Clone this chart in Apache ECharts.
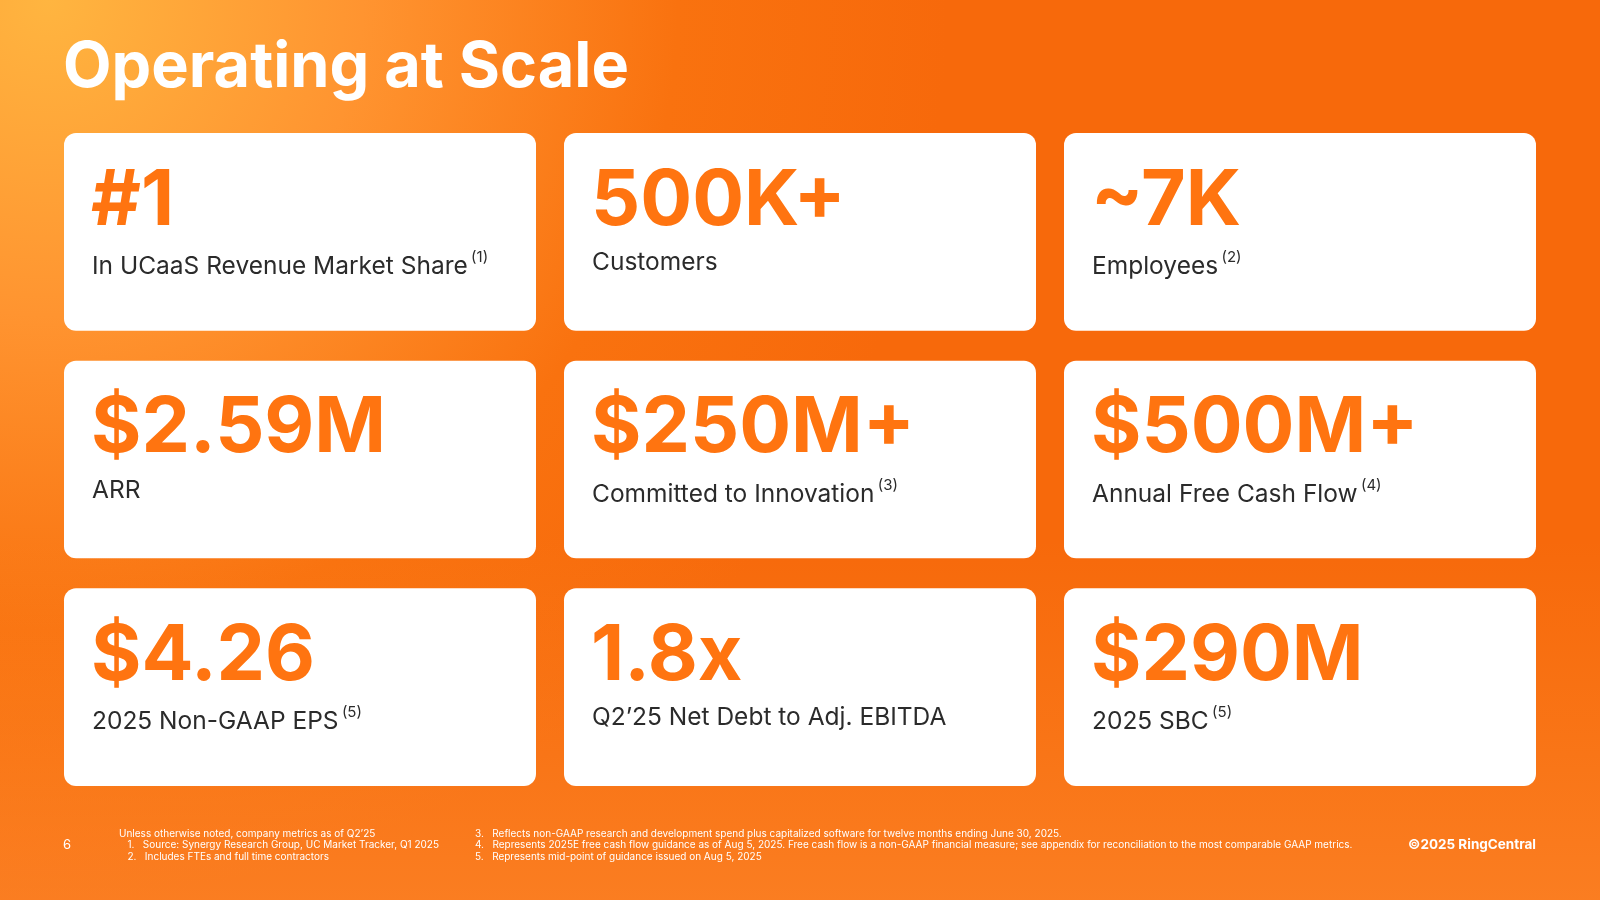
<!DOCTYPE html>
<html><head><meta charset="utf-8">
<script src="https://cdn.jsdelivr.net/npm/echarts@6/dist/echarts.min.js"></script>
<style>html,body{margin:0;padding:0;}#c{width:1600px;height:900px;}</style>
</head><body><div id="c"></div>
<script>
const colIdx = [0,1,2,0,1,2,0,1,2];
const rowIdx = [0,0,0,1,1,1,2,2,2];
const bigValues = ['#1','500K+','~7K','$2.59M','$250M+','$500M+','$4.26','1.8x','$290M'];
const labels = ['In UCaaS Revenue Market Share','Customers','Employees','ARR','Committed to Innovation','Annual Free Cash Flow','2025 Non-GAAP EPS','Q2\u201925 Net Debt to Adj. EBITDA','2025 SBC'];
const notes = ['(1)','','(2)','','(3)','(4)','(5)','','(5)'];
const footLeft = ['Unless otherwise noted, company metrics as of Q2\u201925','   1.   Source: Synergy Research Group, UC Market Tracker, Q1 2025','   2.   Includes FTEs and full time contractors'];
const footRight = ['3.   Reflects non-GAAP research and development spend plus capitalized software for twelve months ending June 30, 2025.','4.   Represents 2025E free cash flow guidance as of Aug 5, 2025. Free cash flow is a non-GAAP financial measure; see appendix for reconciliation to the most comparable GAAP metrics.','5.   Represents mid-point of guidance issued on Aug 5, 2025'];

const data = colIdx.map((c,i)=>[c,rowIdx[i],i]);
const chart = echarts.init(document.getElementById('c'));
const F = 'Inter, "Noto Sans", sans-serif';
const GX = 28, GY = 30;
chart.setOption({
  animation:false,
  graphic:[
    {type:'rect',z:-10,shape:{x:0,y:0,width:1600,height:900},style:{fill:new echarts.graphic.RadialGradient(0.03,0.0,1.0,[{offset:0,color:'#FFB540'},{offset:0.35,color:'#FF9430'},{offset:0.7,color:'#F9720F'},{offset:1,color:'#F7690B'}])}},
    {type:'rect',z:-9,shape:{x:0,y:0,width:1600,height:900},style:{fill:new echarts.graphic.LinearGradient(0,0,0,1,[{offset:0,color:'rgba(255,150,50,0)'},{offset:0.6,color:'rgba(255,150,50,0)'},{offset:1,color:'rgba(255,150,60,0.45)'}])}},
    {type:'text',left:63,top:37,style:{text:'Operating at Scale',fill:'#fff',font:'bold 63px '+F}},
    {type:'text',left:63,top:839,style:{text:'6',fill:'#fff',font:'13px '+F}},
    {type:'text',left:119,top:828,style:{text:footLeft.join('\n'),fill:'#fff',font:'10px '+F,lineHeight:11.5}},
    {type:'text',left:475,top:828,style:{text:footRight.join('\n'),fill:'#fff',font:'10px '+F,lineHeight:11.5}},
    {type:'text',right:64,top:838,style:{text:'\u00a92025 RingCentral',fill:'#fff',font:'bold 13.5px '+F}}
  ],
  grid:{left:64,right:64,top:133,bottom:114},
  xAxis:{type:'category',data:['0','1','2'],show:false},
  yAxis:{type:'category',data:['0','1','2'],inverse:true,show:false},
  series:[{
    type:'custom',
    data:data,
    renderItem:function(params,api){
      const i = api.value(2), c = api.value(0), r = api.value(1);
      const p = api.coord([c,r]);
      const s = api.size([1,1]);
      const w = s[0]-2*GX/3, h = s[1]-2*GY/3;
      const x = p[0]-s[0]/2 + c*GX/3, y = p[1]-s[1]/2 + r*GY/3;
      return {type:'group',children:[
        {type:'rect',shape:{x:x,y:y,width:w,height:h,r:12},style:{fill:'#fff'}},
        {type:'text',x:x+27,y:y+30,style:{text:bigValues[i],fill:'#FF7410',font:'bold 77px '+F}},
        {type:'text',x:x+28,y:y+117,style:{
          text:'{a|'+labels[i]+'}'+(notes[i]?' {s|'+notes[i]+'}':''),
          rich:{a:{fill:'#2b2b2b',fontSize:24.5,fontFamily:F,verticalAlign:'bottom'},s:{fill:'#2b2b2b',fontSize:15,fontFamily:F,verticalAlign:'top',padding:[0,0,14,0]}}
        }}
      ]};
    }
  }]
});
</script></body></html>
